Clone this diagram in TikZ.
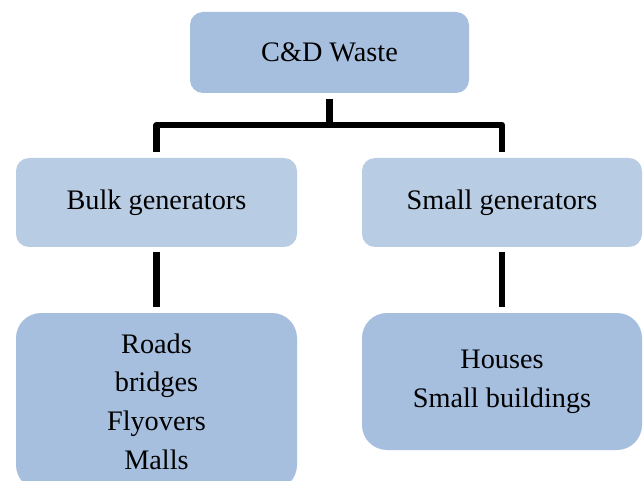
\documentclass[tikz,border=0pt]{standalone}
\usepackage{fontspec}
\setmainfont{Liberation Serif}
\usetikzlibrary{calc}
\definecolor{boxdark}{RGB}{167,191,222}
\definecolor{boxlight}{RGB}{184,204,228}
\tikzset{
	box/.style={rectangle, draw=none, inner sep=0pt, outer sep=0pt, align=center,
		font=\fontsize{21.2}{29}\selectfont},
	link/.style={line width=4.7pt, color=black, line join=round}
}

\begin{document}
\begin{tikzpicture}[x=0.75pt, y=-0.75pt]
		%%%%% START %%%%%
		
		\clip (0, 0) rectangle (643, 481);
		\fill[white] (0, 0) rectangle (643, 481);
		
		% top
		\node[box, fill=boxdark, rounded corners=9.75pt, minimum width=209.25pt, minimum height=60.75pt] (cd) at (329.5, 52.5) {C\&D Waste};
		
		% generators
		\node[box, fill=boxlight, rounded corners=9.75pt, minimum width=210.75pt, minimum height=66.75pt] (bulk) at (156.5, 202.5) {Bulk generators};
		\node[box, fill=boxlight, rounded corners=9.75pt, minimum width=210pt, minimum height=66.75pt] (small) at (502, 202.5) {Small generators};
		
		% sources
		\node[box, fill=boxdark, rounded corners=18.75pt, minimum width=210.75pt, minimum height=132.75pt] (bulksrc) at (156.5, 401.5) {Roads\\bridges\\Flyovers\\Malls};
		\node[box, fill=boxdark, rounded corners=18.75pt, minimum width=210pt, minimum height=102.75pt] (smallsrc) at (502, 381.5) {Houses\\Small buildings};
		
		\coordinate (split) at (329.5, 125);
		\draw[link] ($(cd.south)+(0, 6)$) -- (split);
		\draw[link] ($(bulk.north)+(0, -6)$) -- (bulk.north |- split) -- (small.north |- split) -- ($(small.north)+(0, -6)$);
		
		\draw[link] ($(bulk.south)+(0, 5)$) -- ($(bulksrc.north)+(0, -6)$);
		\draw[link] ($(small.south)+(0, 5)$) -- ($(smallsrc.north)+(0, -6)$);
		
		%%%%% END %%%%%
\end{tikzpicture}
\end{document}
